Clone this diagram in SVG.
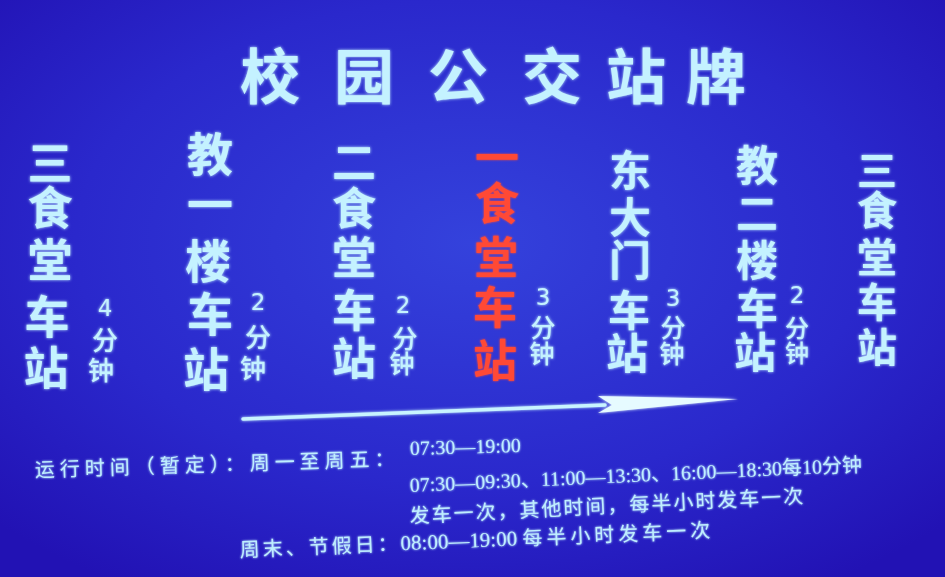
<svg xmlns="http://www.w3.org/2000/svg" width="945" height="577" viewBox="0 0 945 577">
<style>
.cjk{font-family:"Noto Sans CJK SC","Noto Sans CJK TC",sans-serif;font-weight:700;fill:#c4f2ff;text-anchor:middle}
.red{fill:#ff4a36}
.num{font-family:"DejaVu Sans","Liberation Sans",sans-serif;fill:#c4f2ff;text-anchor:middle;font-size:23px}
.sm{font-family:"Noto Sans CJK SC",sans-serif;font-weight:500;fill:#c4f2ff;text-anchor:middle}
.info{font-family:"Liberation Serif","Noto Sans CJK SC",serif;fill:#bfeeff;font-size:20px}
</style>
<defs>
<radialGradient id="bg" cx="0.5" cy="0.42" r="0.7">
<stop offset="0" stop-color="#3442dc"/>
<stop offset="0.6" stop-color="#2a28cc"/>
<stop offset="1" stop-color="#2212b4"/>
</radialGradient>
<filter id="glow" x="-30%" y="-30%" width="160%" height="160%">
<feGaussianBlur in="SourceGraphic" stdDeviation="1.5" result="b"/>
<feMerge><feMergeNode in="b"/><feMergeNode in="SourceGraphic"/></feMerge>
</filter>
<filter id="glowR" x="-30%" y="-30%" width="160%" height="160%">
<feGaussianBlur in="SourceGraphic" stdDeviation="1.2" result="b"/>
<feMerge><feMergeNode in="b"/><feMergeNode in="SourceGraphic"/></feMerge>
</filter>
</defs>
<rect width="945" height="577" fill="url(#bg)"/>

<g id="title" filter="url(#glow)">
<text class="cjk" font-size="60" x="270" y="99">校</text>
<text class="cjk" font-size="60" x="364" y="99">园</text>
<text class="cjk" font-size="60" x="458" y="99">公</text>
<text class="cjk" font-size="60" x="552" y="99">交</text>
<text class="cjk" font-size="60" x="636" y="99">站</text>
<text class="cjk" font-size="60" x="716" y="99">牌</text>
</g>

<g id="stop1" filter="url(#glow)">
<text class="cjk" font-size="45" x="50" y="180">三</text>
<text class="cjk" font-size="45" x="50" y="225">食</text>
<text class="cjk" font-size="45" x="50" y="277">堂</text>
<text class="cjk" font-size="45" x="47" y="334">车</text>
<text class="cjk" font-size="45" x="46" y="385">站</text>
<text class="num" x="105" y="316">4</text>
<text class="sm" font-size="26" x="105" y="350">分</text>
<text class="sm" font-size="26" x="101" y="380">钟</text>
</g>

<g id="stop2" filter="url(#glow)">
<text class="cjk" font-size="46" x="210" y="171">教</text>
<text class="cjk" font-size="46" x="210" y="221">一</text>
<text class="cjk" font-size="46" x="208" y="278">楼</text>
<text class="cjk" font-size="46" x="210" y="331">车</text>
<text class="cjk" font-size="46" x="206" y="386">站</text>
<text class="num" x="258" y="310">2</text>
<text class="sm" font-size="26" x="258" y="347">分</text>
<text class="sm" font-size="26" x="253" y="378">钟</text>
</g>

<g id="stop3" filter="url(#glow)">
<text class="cjk" font-size="44" x="354" y="179">二</text>
<text class="cjk" font-size="44" x="354" y="225">食</text>
<text class="cjk" font-size="44" x="354" y="274">堂</text>
<text class="cjk" font-size="44" x="354" y="327">车</text>
<text class="cjk" font-size="44" x="354" y="375">站</text>
<text class="num" x="403" y="313">2</text>
<text class="sm" font-size="25" x="405" y="348">分</text>
<text class="sm" font-size="25" x="402" y="373">钟</text>
</g>

<g id="stop4" filter="url(#glowR)">
<text class="cjk red" font-size="44" x="497" y="174">一</text>
<text class="cjk red" font-size="44" x="497" y="220">食</text>
<text class="cjk red" font-size="44" x="496" y="274">堂</text>
<text class="cjk red" font-size="44" x="495" y="324">车</text>
<text class="cjk red" font-size="44" x="495" y="377">站</text>
</g>
<g id="time4" filter="url(#glow)">
<text class="num" x="543" y="305">3</text>
<text class="sm" font-size="25" x="543" y="337">分</text>
<text class="sm" font-size="25" x="542" y="363">钟</text>
</g>

<g id="stop5" filter="url(#glow)">
<text class="cjk" font-size="42" x="630" y="186">东</text>
<text class="cjk" font-size="42" x="630" y="233">大</text>
<text class="cjk" font-size="42" x="630" y="276">门</text>
<text class="cjk" font-size="42" x="629" y="326">车</text>
<text class="cjk" font-size="42" x="627" y="369">站</text>
<text class="num" x="673" y="306">3</text>
<text class="sm" font-size="25" x="673" y="337">分</text>
<text class="sm" font-size="25" x="672" y="363">钟</text>
</g>

<g id="stop6" filter="url(#glow)">
<text class="cjk" font-size="42" x="757" y="181">教</text>
<text class="cjk" font-size="42" x="757" y="229">二</text>
<text class="cjk" font-size="42" x="757" y="276">楼</text>
<text class="cjk" font-size="42" x="757" y="324">车</text>
<text class="cjk" font-size="42" x="755" y="368">站</text>
<text class="num" x="797" y="303">2</text>
<text class="sm" font-size="24" x="797" y="337">分</text>
<text class="sm" font-size="24" x="797" y="362">钟</text>
</g>

<g id="stop7" filter="url(#glow)">
<text class="cjk" font-size="40" x="877" y="185">三</text>
<text class="cjk" font-size="40" x="877" y="225">食</text>
<text class="cjk" font-size="40" x="877" y="272">堂</text>
<text class="cjk" font-size="40" x="877" y="317">车</text>
<text class="cjk" font-size="40" x="877" y="362">站</text>
</g>

<g id="connectors" filter="url(#glow)">
<path d="M243 419 L605 405" stroke="#c8f4ff" stroke-width="3.5" fill="none" stroke-linecap="round"/>
<polygon points="598,396 738,399 598,413 612,405" fill="#e6fbff"/>
</g>

<g id="schedule" filter="url(#glowR)">
<text class="info" x="35" y="477" letter-spacing="5" transform="rotate(-1.8 35 477)">运行时间（暂定）：周一至周五：</text>
<text class="info" x="410" y="455" font-size="21" transform="rotate(-1.5 410 455)">07:30—19:00</text>
<text class="info" x="410" y="492" font-size="21" transform="rotate(-2.6 410 492)">07:30—09:30、11:00—13:30、16:00—18:30每10分钟</text>
<text class="info" x="410" y="523" letter-spacing="2" transform="rotate(-2.9 410 523)">发车一次，其他时间，每半小时发车一次</text>
<text class="info" x="240" y="557" letter-spacing="3" transform="rotate(-2.4 240 557)">周末、节假日：<tspan letter-spacing="0" font-size="21">08:00—19:00 </tspan><tspan letter-spacing="4">每半小时发车一次</tspan></text>
</g>
</svg>
